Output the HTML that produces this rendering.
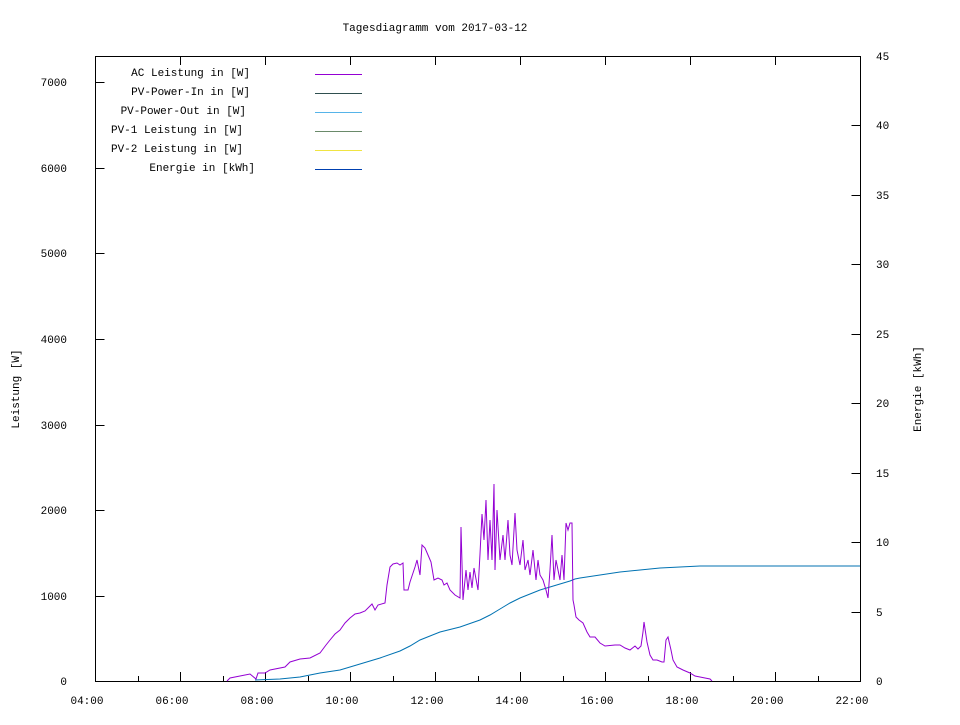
<!DOCTYPE html>
<html><head><style>body{margin:0;background:#fff}</style></head><body>
<svg width="960" height="720" xmlns="http://www.w3.org/2000/svg" font-family="Liberation Mono, monospace" font-size="11" font-weight="normal">
<rect width="960" height="720" fill="#fff"/>
<text x="435" y="31" text-anchor="middle">Tagesdiagramm vom 2017-03-12</text>
<g stroke="#000" stroke-width="1" fill="none">
<rect x="95.5" y="56.5" width="765" height="625"/>
<path d="M95.5 596.5h9M95.5 510.5h9M95.5 425.5h9M95.5 339.5h9M95.5 253.5h9M95.5 168.5h9M95.5 82.5h9
M860.5 612.5h-9M860.5 542.5h-9M860.5 473.5h-9M860.5 403.5h-9M860.5 334.5h-9M860.5 264.5h-9M860.5 195.5h-9M860.5 125.5h-9
M180.5 681v-9M265.5 681v-9M350.5 681v-9M435.5 681v-9M520.5 681v-9M605.5 681v-9M690.5 681v-9M775.5 681v-9
M138.5 681v-5M223.5 681v-5M308.5 681v-5M393.5 681v-5M478.5 681v-5M563.5 681v-5M648.5 681v-5M733.5 681v-5M818.5 681v-5
M180.5 56v9M265.5 56v9M350.5 56v9M435.5 56v9M520.5 56v9M605.5 56v9M690.5 56v9M775.5 56v9"/>
</g>
<g text-anchor="end">
<text x="67" y="685">0</text><text x="67" y="600">1000</text><text x="67" y="514">2000</text><text x="67" y="429">3000</text><text x="67" y="343">4000</text><text x="67" y="257">5000</text><text x="67" y="172">6000</text><text x="67" y="86">7000</text>
</g>
<g>
<text x="876" y="685">0</text><text x="876" y="616">5</text><text x="876" y="546">10</text><text x="876" y="477">15</text><text x="876" y="407">20</text><text x="876" y="338">25</text><text x="876" y="268">30</text><text x="876" y="199">35</text><text x="876" y="129">40</text><text x="876" y="60">45</text>
</g>
<g text-anchor="middle">
<text x="87" y="704">04:00</text><text x="172" y="704">06:00</text><text x="257" y="704">08:00</text><text x="342" y="704">10:00</text><text x="427" y="704">12:00</text><text x="512" y="704">14:00</text><text x="597" y="704">16:00</text><text x="682" y="704">18:00</text><text x="767" y="704">20:00</text><text x="852" y="704">22:00</text>
</g>
<text transform="translate(19,389) rotate(-90)" text-anchor="middle">Leistung [W]</text>
<text transform="translate(921,389) rotate(-90)" text-anchor="middle">Energie [kWh]</text>
<g text-anchor="end">
<text x="250" y="76">AC Leistung in [W]</text>
<text x="250" y="95">PV-Power-In in [W]</text>
<text x="246" y="114">PV-Power-Out in [W]</text>
<text x="243" y="133">PV-1 Leistung in [W]</text>
<text x="243" y="152">PV-2 Leistung in [W]</text>
<text x="255" y="171">Energie in [kWh]</text>
</g>
<g stroke-width="1">
<path d="M315 74.5h47" stroke="#9400d3"/>
<path d="M315 93.5h47" stroke="#2f4f4f"/>
<path d="M315 112.5h47" stroke="#56b4e9"/>
<path d="M315 131.5h47" stroke="#6a8a6a"/>
<path d="M315 150.5h47" stroke="#f0e442"/>
<path d="M315 169.5h47" stroke="#0040b0"/>
</g>
<polyline fill="none" stroke="#0072b2" stroke-width="1" points="255,680 280,679 300,677 320,673 340,670 360,664 380,658 400,651 410,646 420,640 430,636 440,632 460,627 480,620 490,615 500,609 510,603 520,598 530,594 540,590 550,587 560,584 570,581 575,579 580,578 600,575 620,572 640,570 660,568 680,567 700,566 860,566"/>
<polyline fill="none" stroke="#9400d3" stroke-width="1" points="227,681 230,678 240,676 250,674 256,679 258,673 265,673 270,670 285,667 290,662 300,659 310,658 320,653 326,645 330,640 335,634 340,630 345,623 350,618 355,614 360,613 365,611 370,606 372,604 375,610 378,605 385,603 387,585 390,567 393,564 397,563 400,565 403,563 404,590 408,590 410,582 413,573 415,567 417,560 420,575 422,545 425,548 428,555 431,562 434,580 438,578 442,580 444,585 447,583 450,590 455,595 460,598 461,527 463,600 466,570 468,590 470,572 472,588 474,568 478,590 480,554 482,514 484,540 486,500 488,560 490,520 492,560 494,484 495,570 497,510 500,560 503,535 505,560 508,520 510,555 512,565 515,513 517,550 520,565 523,540 525,570 528,560 530,575 533,550 536,580 538,560 540,575 543,580 546,590 548,598 550,570 552,535 554,580 556,560 558,570 560,580 562,555 564,580 566,523 568,530 570,523 572,523 573,600 574,605 576,617 579,620 583,623 587,632 590,637 595,637 600,643 605,646 615,645 620,645 625,648 630,650 635,646 638,649 641,646 643,632 644,622 647,642 650,655 653,660 657,660 662,662 664,662 666,640 668,637 671,650 673,660 677,667 683,670 690,673 695,676 700,677 705,678 710,679 712,681"/>
</svg>
</body></html>
